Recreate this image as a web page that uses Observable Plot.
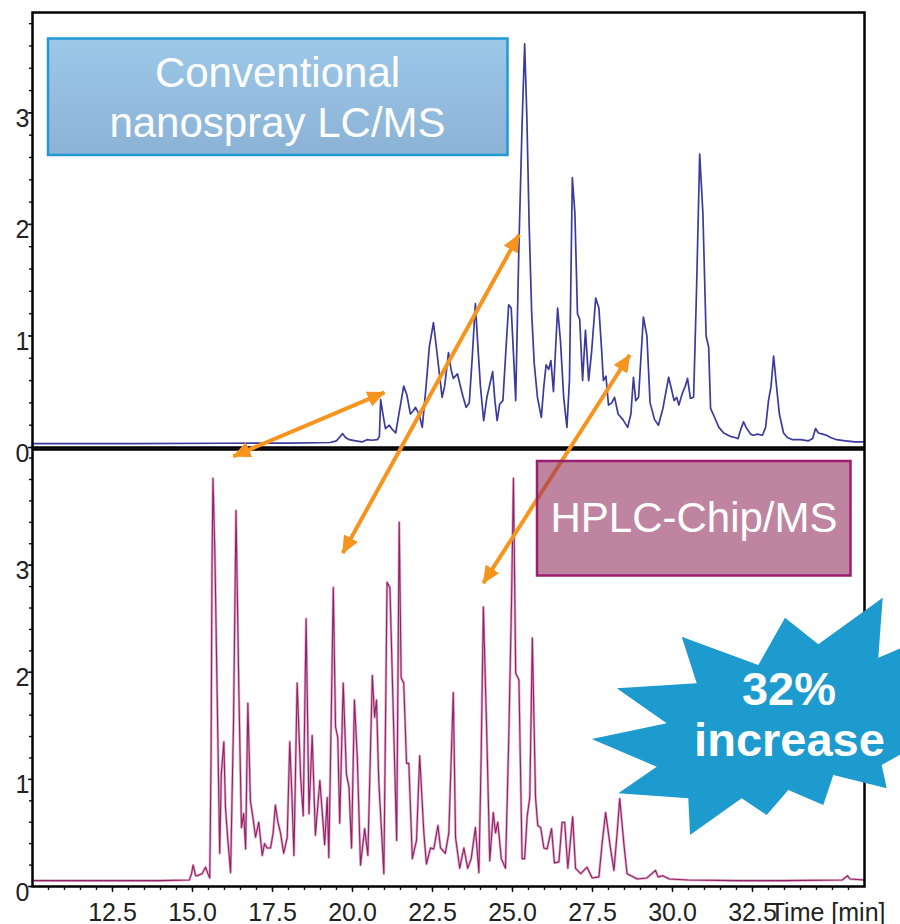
<!DOCTYPE html>
<html>
<head>
<meta charset="utf-8">
<script src="https://cdn.jsdelivr.net/npm/d3@7"></script>
<script src="https://cdn.jsdelivr.net/npm/@observablehq/plot@0.6"></script>
<style>
  html, body { margin: 0; padding: 0; background: #fff; }
  #wrap { position: relative; width: 900px; height: 924px; overflow: hidden; font-family: "Liberation Sans", Arial, sans-serif; }
  #wrap > svg { position: absolute; left: 0; }
</style>
</head>
<body>
<div id="wrap"></div>
<script>
// ---------------- data ----------------
// Conventional nanospray LC/MS (top trace)
const convTime = [10.0,13.0,16.0,18.0,19.3,19.5,19.62,19.69,19.78,19.9,20.1,20.3,20.45,20.6,20.78,20.84,20.88,20.95,21.03,21.15,21.25,21.35,21.45,21.6,21.7,21.81,21.9,21.97,22.08,22.18,22.3,22.4,22.53,22.62,22.7,22.8,22.88,23.0,23.08,23.15,23.28,23.38,23.45,23.55,23.65,23.74,23.84,23.92,24.0,24.1,24.2,24.38,24.45,24.52,24.6,24.7,24.8,24.88,24.96,25.03,25.1,25.2,25.3,25.38,25.45,25.52,25.6,25.68,25.78,25.9,25.98,26.05,26.13,26.2,26.28,26.41,26.5,26.6,26.7,26.78,26.87,26.95,27.03,27.1,27.19,27.28,27.38,27.47,27.6,27.7,27.78,27.84,27.92,28.0,28.1,28.19,28.3,28.45,28.6,28.7,28.78,28.85,28.94,29.09,29.2,29.3,29.44,29.56,29.7,29.88,29.97,30.05,30.13,30.2,30.3,30.4,30.47,30.56,30.66,30.75,30.85,30.95,31.05,31.13,31.19,31.3,31.45,31.6,31.8,31.95,32.05,32.13,32.22,32.3,32.44,32.53,32.66,32.81,32.91,33.0,33.08,33.16,33.25,33.34,33.47,33.59,33.75,34.0,34.25,34.38,34.47,34.56,34.69,34.81,34.94,35.13,35.4,35.7,36.0];
const convSignal = [0.035,0.035,0.038,0.04,0.045,0.06,0.1,0.125,0.09,0.07,0.06,0.05,0.07,0.065,0.07,0.1,0.43,0.3,0.17,0.2,0.16,0.13,0.3,0.55,0.47,0.3,0.33,0.36,0.3,0.18,0.55,0.9,1.12,0.9,0.7,0.45,0.55,0.85,0.7,0.62,0.66,0.54,0.46,0.36,0.4,0.8,1.29,0.9,0.54,0.24,0.45,0.68,0.42,0.24,0.39,0.42,0.9,1.28,1.25,0.84,0.42,1.8,2.9,3.62,2.95,2.0,1.2,0.75,0.45,0.27,0.55,0.74,0.7,0.78,0.5,1.25,0.95,0.45,0.18,0.6,2.42,2.1,1.2,1.15,0.6,1.05,0.6,0.85,1.34,1.25,0.9,0.6,0.64,0.38,0.4,0.45,0.3,0.25,0.18,0.3,0.63,0.42,0.45,1.17,1.0,0.4,0.25,0.2,0.35,0.63,0.52,0.42,0.45,0.38,0.48,0.55,0.62,0.44,0.45,1.4,2.63,2.1,1.0,0.9,0.35,0.28,0.18,0.13,0.1,0.09,0.08,0.16,0.23,0.18,0.12,0.11,0.12,0.11,0.18,0.42,0.55,0.82,0.55,0.3,0.13,0.09,0.07,0.07,0.06,0.08,0.17,0.13,0.12,0.11,0.09,0.07,0.06,0.05,0.05];

// HPLC-Chip/MS (bottom trace)
const chipTime = [10.0,12.0,14.0,14.9,14.97,15.02,15.1,15.15,15.3,15.41,15.48,15.54,15.58,15.61,15.64,15.7,15.77,15.85,15.9,15.98,16.03,16.1,16.19,16.28,16.36,16.45,16.53,16.6,16.66,16.73,16.81,16.9,16.97,17.07,17.18,17.25,17.33,17.44,17.52,17.59,17.67,17.75,17.85,17.96,18.04,18.1,18.17,18.27,18.38,18.46,18.55,18.64,18.74,18.84,18.98,19.13,19.21,19.26,19.32,19.4,19.47,19.54,19.6,19.71,19.81,19.89,19.97,20.06,20.15,20.25,20.38,20.48,20.62,20.69,20.75,20.82,20.98,21.08,21.17,21.27,21.38,21.46,21.52,21.6,21.69,21.76,21.87,22.0,22.1,22.23,22.31,22.44,22.54,22.67,22.75,22.9,23.01,23.15,23.22,23.35,23.48,23.6,23.71,23.84,23.95,24.02,24.09,24.19,24.29,24.4,24.47,24.54,24.65,24.78,24.88,24.97,25.03,25.1,25.2,25.3,25.38,25.46,25.54,25.62,25.72,25.79,25.88,25.98,26.08,26.22,26.31,26.45,26.55,26.63,26.73,26.88,26.97,27.13,27.33,27.49,27.7,27.8,27.91,28.06,28.17,28.27,28.35,28.48,28.58,28.9,29.2,29.47,29.55,29.7,29.9,30.5,32.0,33.5,35.3,35.47,35.55,36.0];
const chipSignal = [0.055,0.055,0.055,0.06,0.12,0.2,0.1,0.1,0.12,0.18,0.12,0.08,1.2,3.0,3.81,3.1,1.8,0.31,1.05,1.35,0.74,0.45,0.13,1.5,3.51,1.8,0.55,0.68,0.35,1.71,0.8,0.62,0.46,0.6,0.29,0.4,0.36,0.36,0.5,0.76,0.6,0.5,0.31,0.46,1.35,0.9,0.29,1.9,1.02,0.66,2.5,0.68,1.41,0.48,0.99,0.39,0.83,0.27,1.3,2.79,1.49,1.39,0.59,1.9,1.05,0.93,0.36,1.74,1.2,0.2,0.54,0.29,1.97,1.58,1.74,0.99,0.12,2.84,2.79,1.67,0.43,3.4,1.95,1.9,1.15,1.15,0.26,0.43,1.22,0.5,0.21,0.36,0.35,0.57,0.36,0.31,0.5,1.81,0.46,0.17,0.36,0.17,0.26,0.55,0.13,1.2,2.61,1.49,0.24,0.69,0.5,0.6,0.26,0.17,1.34,2.67,3.81,1.99,1.93,0.26,0.26,0.66,0.83,2.32,0.83,0.57,0.55,0.36,0.35,0.54,0.22,0.23,0.6,0.6,0.17,0.65,0.17,0.12,0.18,0.08,0.09,0.4,0.69,0.36,0.15,0.5,0.82,0.4,0.12,0.07,0.08,0.15,0.09,0.1,0.07,0.06,0.055,0.055,0.06,0.1,0.07,0.06];

const xTickValues = [12.5, 15, 17.5, 20, 22.5, 25, 27.5, 30, 32.5];
const yTickValues = [0, 1, 2, 3];
const xAxisLabel = "Time [min]";
const topPanelLabel = ["Conventional", "nanospray LC/MS"];
const bottomPanelLabel = ["HPLC-Chip/MS"];
const badgeText = ["32%", "increase"];

// Peak-matching arrows: one end in the chip panel, the other in the conventional panel
const arrowChipTime = [16.12, 19.62, 24.0];
const arrowChipSignal = [3.99, 3.06, 2.78];
const arrowConvTime = [21.19, 25.31, 28.78];
const arrowConvSignal = [0.51, 1.95, 0.87];

// ---------------- drawing ----------------
const FONT = "'Liberation Sans', Arial, Helvetica, sans-serif";
const W = 900;
const X_DOMAIN = [10, 36];
const BOTTOM_TOP = 447;
const wrap = document.getElementById("wrap");

const conv = convTime.map((t, i) => ({t, v: convSignal[i]}));
const chip = chipTime.map((t, i) => ({t, v: chipSignal[i]}));
const minorTop = d3.range(0, 3.81, 0.2);
const minorBottom = d3.range(0, 4.01, 0.2);
const minorX = d3.range(10.5, 35.9, 0.5);

function yAxisMarks(minor) {
  return [
    Plot.axisY({ticks: minor, tickSize: 3, tickFormat: () => "", strokeWidth: 1.4, label: null}),
    Plot.axisY({ticks: yTickValues, tickSize: 4, tickFormat: () => "", strokeWidth: 1.4, label: null}),
    Plot.axisY({ticks: yTickValues, tickSize: 0, tickPadding: 3, dy: 6, fontSize: 25, fill: "#222", tickFormat: d3.format("d"), label: null})
  ];
}

const baseStyle = {background: "none", overflow: "visible", fontFamily: FONT, fontSize: "25px", color: "#111"};

const topPlot = Plot.plot({
  width: W, height: 460,
  marginTop: 12, marginBottom: 13, marginLeft: 32, marginRight: 36,
  style: baseStyle,
  x: {domain: X_DOMAIN, axis: null, label: null},
  y: {domain: [0, 3.9], axis: null, label: null},
  marks: [
    Plot.line(conv, {x: "t", y: "v", stroke: "#3b3b9e", strokeWidth: 1.7}),
    ...yAxisMarks(minorTop),
    Plot.frame({stroke: "#000", strokeWidth: 2.5})
  ]
});
topPlot.style.top = "0px";
wrap.appendChild(topPlot);

const bottomPlot = Plot.plot({
  width: W, height: 477,
  marginTop: 2, marginBottom: 38, marginLeft: 32, marginRight: 36,
  style: baseStyle,
  x: {domain: X_DOMAIN, axis: null, label: null},
  y: {domain: [0, 4.08], axis: null, label: null},
  marks: [
    Plot.line(chip, {x: "t", y: "v", stroke: "#cf94b3", strokeWidth: 2.6, strokeOpacity: 0.75}),
    Plot.line(chip, {x: "t", y: "v", stroke: "#961d69", strokeWidth: 1.1}),
    ...yAxisMarks(minorBottom),
    Plot.axisX({ticks: minorX, tickSize: 4, tickFormat: () => "", strokeWidth: 1.4, label: null}),
    Plot.axisX({ticks: xTickValues, tickSize: 6, tickPadding: 11, tickFormat: d3.format(".1f"), fontSize: 25, fill: "#222", strokeWidth: 1.4, label: null}),
    Plot.text([xAxisLabel], {frameAnchor: "bottom-right", textAnchor: "end", lineAnchor: "top", dx: 21, dy: 17, fontSize: 25, fill: "#222"}),
    Plot.frame({stroke: "#000", strokeWidth: 2.5})
  ]
});
bottomPlot.style.top = BOTTOM_TOP + "px";
wrap.appendChild(bottomPlot);

// ---------------- annotations overlay ----------------
const xs = topPlot.scale("x");
const yTop = topPlot.scale("y");
const yBot = bottomPlot.scale("y");

const ov = d3.create("svg")
  .attr("width", 900).attr("height", 924)
  .style("top", "0px").style("overflow", "hidden")
  .attr("font-family", FONT);

const defs = ov.append("defs");
defs.append("marker")
  .attr("id", "ahead").attr("markerUnits", "userSpaceOnUse")
  .attr("markerWidth", 18).attr("markerHeight", 16)
  .attr("viewBox", "0 0 18 16").attr("refX", 17).attr("refY", 8)
  .attr("orient", "auto-start-reverse")
  .append("path").attr("d", "M0,0 L18,8 L0,16 Z").attr("fill", "#f7941d");
const grad = defs.append("linearGradient").attr("id", "blueGrad").attr("x1", 0).attr("y1", 0).attr("x2", 0).attr("y2", 1);
grad.append("stop").attr("offset", "0%").attr("stop-color", "#9dc8e8");
grad.append("stop").attr("offset", "100%").attr("stop-color", "#8bb2d5");

// arrows (double-headed)
arrowChipTime.forEach((_, i) => {
  const x1 = xs.apply(arrowChipTime[i]);
  const y1 = BOTTOM_TOP + yBot.apply(arrowChipSignal[i]);
  const x2 = xs.apply(arrowConvTime[i]);
  const y2 = yTop.apply(arrowConvSignal[i]);
  const len = Math.hypot(x2 - x1, y2 - y1);
  const ux = (x2 - x1) / len, uy = (y2 - y1) / len;
  const s = 6;
  ov.append("line")
    .attr("x1", x1 + ux * s).attr("y1", y1 + uy * s)
    .attr("x2", x2 - ux * s).attr("y2", y2 - uy * s)
    .attr("stroke", "#f7941d").attr("stroke-width", 4)
    .attr("marker-start", "url(#ahead)").attr("marker-end", "url(#ahead)");
});

// top label box
ov.append("rect").attr("x", 48).attr("y", 38.5).attr("width", 459.5).attr("height", 116.5)
  .attr("fill", "url(#blueGrad)").attr("stroke", "#1f9ad4").attr("stroke-width", 2.5);
ov.append("text").attr("x", 277.5).attr("y", 87).attr("text-anchor", "middle")
  .attr("font-size", 42).attr("fill", "#fff").text(topPanelLabel[0]);
ov.append("text").attr("x", 277.5).attr("y", 137).attr("text-anchor", "middle")
  .attr("font-size", 42).attr("fill", "#fff").text(topPanelLabel[1]);

// bottom label box
ov.append("rect").attr("x", 537).attr("y", 461).attr("width", 313.5).attr("height", 114.5)
  .attr("fill", "#943461").attr("fill-opacity", 0.6).attr("stroke", "none");
ov.append("rect").attr("x", 537).attr("y", 461).attr("width", 313.5).attr("height", 114.5)
  .attr("fill", "none").attr("stroke", "#9b1f6e").attr("stroke-width", 2.5);
ov.append("text").attr("x", 694).attr("y", 532).attr("text-anchor", "middle")
  .attr("font-size", 42).attr("fill", "#fff").text(bottomPanelLabel[0]);

// starburst badge
const star = "M882.7,597.7 L878.3,657.7 L920,640 L905,705 L935,735 L881.7,765 L886.7,788.3 L833.3,775 L823.3,805 L788.3,790 L766.7,815 L741.7,798.3 L690,835 L688.3,798.3 L618.3,793.3 L656.7,766.7 L591.7,739 L666.7,723.3 L616.7,688.3 L696.7,683.3 L681.7,636.7 L758.3,665 L785,617.7 L818.3,644.3 Z";
ov.append("path").attr("d", star).attr("fill", "#1d9bcf");
ov.append("text").attr("x", 789).attr("y", 705).attr("text-anchor", "middle")
  .attr("font-size", 47).attr("font-weight", "bold").attr("fill", "#fff").text(badgeText[0]);
ov.append("text").attr("x", 789.5).attr("y", 756).attr("text-anchor", "middle")
  .attr("font-size", 47).attr("font-weight", "bold").attr("fill", "#fff").text(badgeText[1]);

wrap.appendChild(ov.node());
</script>
</body>
</html>
